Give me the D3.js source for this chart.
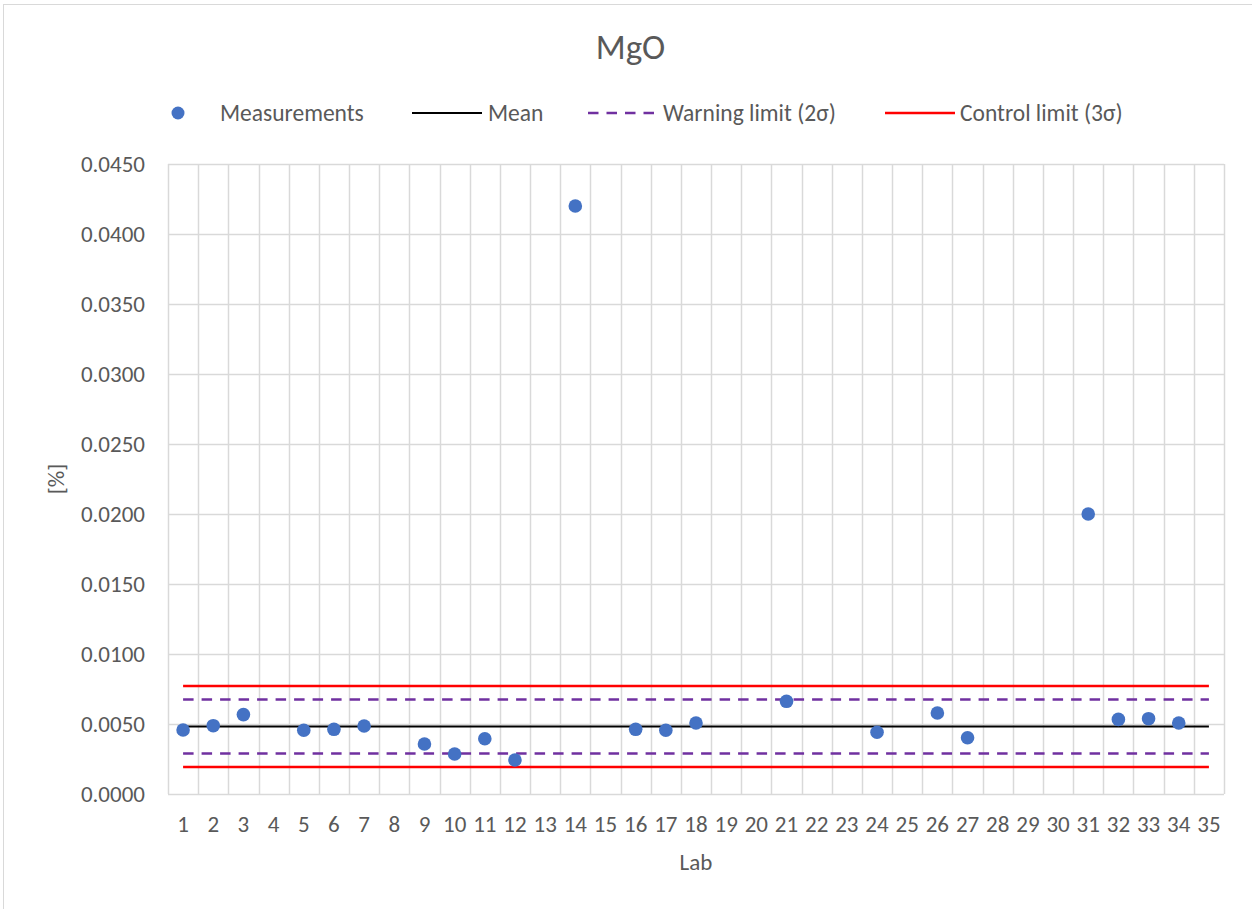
<!DOCTYPE html>
<html><head><meta charset="utf-8">
<script src="https://cdn.jsdelivr.net/npm/d3@7"></script>
<style>
html,body{margin:0;padding:0;background:#fff;}
svg{display:block;}
text{font-family:Calibri,Carlito,"Open Sans",sans-serif;fill:#595959;}
</style></head><body>
<svg id="chart" width="1252" height="909"></svg>
<script>
const title = "MgO";
const labs = d3.range(1, 36).map(String);
const measurements = [0.00457,0.00488,0.00567,null,0.00455,0.00462,0.00486,null,0.00357,0.00286,
  0.00395,0.00243,null,0.0420,null,0.00462,0.00455,0.00507,null,null,
  0.00662,null,null,0.00441,null,0.00579,0.00402,null,null,null,
  0.0200,0.00533,0.00538,0.00507,null];
const meanValue = 0.00482;
const warnLower = 0.00289, warnUpper = 0.00675;
const ctrlLower = 0.00192, ctrlUpper = 0.00772;
const yTicks = d3.range(0, 0.04501, 0.005);
const legendItems = ["Measurements","Mean","Warning limit (2σ)","Control limit (3σ)"];

const FS = "23px";
const DASH = "10.5,8";
const svg = d3.select("#chart");
svg.append("rect").attr("x",3.5).attr("y",4.5).attr("width",1252).attr("height",920)
  .attr("fill","#fff").attr("stroke","#d9d9d9").attr("stroke-width",1);

const m = {left:168, right:1224, top:164, bottom:794};
const x = d3.scaleBand().domain(labs).range([m.left, m.right]).padding(0);
const y = d3.scaleLinear().domain([0, 0.045]).range([m.bottom, m.top]);

// gridlines
const g = svg.append("g");
g.selectAll("line.h").data(yTicks).join("line")
  .attr("x1", m.left).attr("x2", m.right)
  .attr("y1", d => Math.round(y(d))+0.5).attr("y2", d => Math.round(y(d))+0.5)
  .attr("stroke","#d9d9d9").attr("stroke-width",1.5);
const bounds = labs.map(l => x(l)).concat([x(labs[labs.length-1]) + x.bandwidth()]);
g.selectAll("line.v").data(bounds).join("line")
  .attr("x1", d => Math.round(d)+0.5).attr("x2", d => Math.round(d)+0.5)
  .attr("y1", m.top).attr("y2", m.bottom)
  .attr("stroke","#d9d9d9").attr("stroke-width",1.5);

// axes
const yAxis = d3.axisLeft(y).tickValues(yTicks).tickFormat(d3.format(".4f")).tickSize(0).tickPadding(23);
svg.append("g").attr("transform",`translate(${m.left},0)`).call(yAxis)
  .call(s => s.select(".domain").remove())
  .selectAll("text").style("font-size",FS).style("font-family","Calibri,Carlito,sans-serif").attr("fill","#595959");
const xAxis = d3.axisBottom(x).tickSize(0).tickPadding(22);
svg.append("g").attr("transform",`translate(0,${m.bottom})`).call(xAxis)
  .call(s => s.select(".domain").remove())
  .selectAll("text").style("font-size",FS).style("font-family","Calibri,Carlito,sans-serif").attr("fill","#595959");

// reference lines
const xc = l => x(l) + x.bandwidth()/2;
const line = d3.line().x(d => xc(d.lab)).y(d => y(d.v));
function refLine(val, color, dash, w) {
  svg.append("path").datum(labs.map(l => ({lab:l, v:val})))
    .attr("d", line).attr("fill","none").attr("stroke",color)
    .attr("stroke-width", w).attr("stroke-dasharray", dash);
}
refLine(ctrlUpper, "#ff0000", null, 2.5);
refLine(ctrlLower, "#ff0000", null, 2.5);
refLine(warnUpper, "#7030a0", DASH, 2.5);
refLine(warnLower, "#7030a0", DASH, 2.5);
refLine(meanValue, "#000000", null, 2);

// points
svg.append("g").selectAll("circle")
  .data(labs.map((l,i) => ({lab:l, v:measurements[i]})).filter(d => d.v != null))
  .join("circle").attr("cx", d => xc(d.lab)).attr("cy", d => y(d.v))
  .attr("r", 6.8).attr("fill","#4472c4");

// title
svg.append("text").attr("x", 630.5).attr("y", 59).attr("text-anchor","middle")
  .style("font-size","35px").text(title);

// axis titles
svg.append("text").attr("x", 696).attr("y", 870).attr("text-anchor","middle")
  .style("font-size",FS).text("Lab");
svg.append("text").attr("transform","translate(64,479) rotate(-90)").attr("text-anchor","middle")
  .style("font-size",FS).text("[%]");

// legend
const ly = 113, tdy = 8;
const LFS = "23.5px";
const lg = svg.append("g");
lg.append("circle").attr("cx",178).attr("cy",ly).attr("r",6.5).attr("fill","#4472c4");
lg.append("text").attr("x",220).attr("y",ly+tdy).style("font-size",LFS).text(legendItems[0]);
lg.append("line").attr("x1",412).attr("x2",482).attr("y1",ly).attr("y2",ly).attr("stroke","#000").attr("stroke-width",2);
lg.append("text").attr("x",488).attr("y",ly+tdy).style("font-size",LFS).text(legendItems[1]);
lg.append("line").attr("x1",588).attr("x2",660).attr("y1",ly).attr("y2",ly).attr("stroke","#7030a0").attr("stroke-width",2.5).attr("stroke-dasharray",DASH);
lg.append("text").attr("x",663).attr("y",ly+tdy).style("font-size",LFS).text(legendItems[2]);
lg.append("line").attr("x1",885).attr("x2",955).attr("y1",ly).attr("y2",ly).attr("stroke","#ff0000").attr("stroke-width",2.5);
lg.append("text").attr("x",960).attr("y",ly+tdy).style("font-size",LFS).text(legendItems[3]);
</script>
</body></html>
